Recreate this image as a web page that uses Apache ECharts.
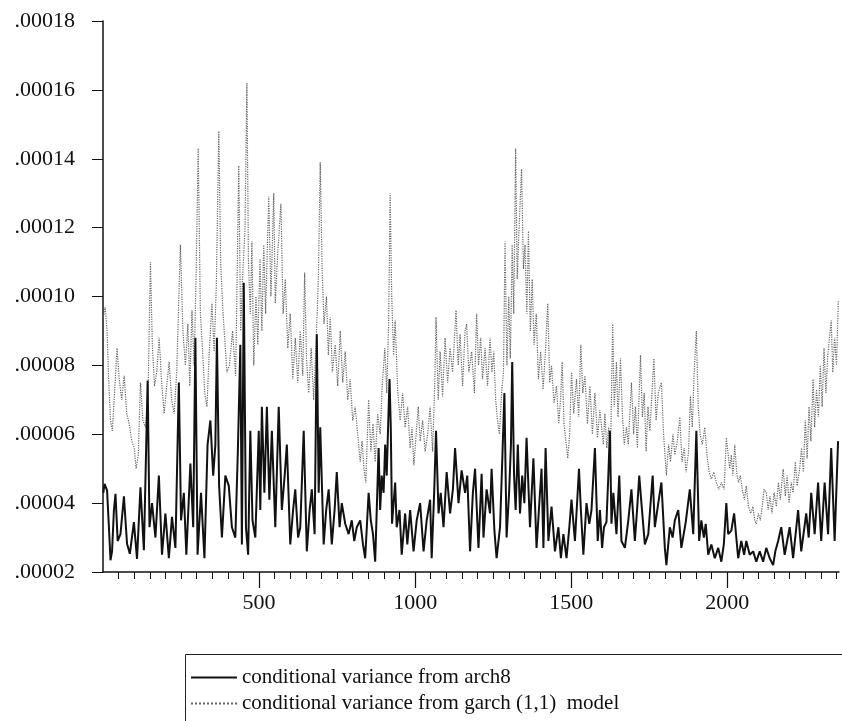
<!DOCTYPE html>
<html>
<head>
<meta charset="utf-8">
<script src="https://cdn.jsdelivr.net/npm/echarts@6/dist/echarts.min.js"></script>
<style>html,body{margin:0;padding:0;background:#fff;}#chart{width:842px;height:721px;}</style>
</head>
<body>
<div id="chart"></div>
<script>
// values in units of 1e-5 (axis labels show the true value, e.g. .00018)
const yTicks = [2, 4, 6, 8, 10, 12, 14, 16, 18];
const xLabels = [500, 1000, 1500, 2000];
const seriesNames = ['conditional variance from arch8', 'conditional variance from garch (1,1)  model'];

// [observation, conditional variance x 1e5]
const garchPoints = [
[1,9.4],[7,9.7],[13,9.0],[18,7.6],[24,6.4],[30,6.1],[37,7.2],[45,8.5],[52,7.6],[60,7.0],[68,7.7],[76,6.6],[84,6.3],[92,5.8],[100,5.6],[106,5.0],[113,5.4],[120,7.5],[128,6.4],[136,6.2],[144,7.0],[152,11.0],[158,8.6],[165,7.4],[172,7.8],[180,8.8],[188,7.5],[196,6.6],[204,7.4],[212,8.1],[220,7.0],[228,6.6],[236,7.8],[248,11.5],[256,9.0],[264,8.0],[272,9.2],[278,7.4],[285,9.6],[292,8.0],[298,10.5],[305,14.3],[312,9.5],[318,8.6],[326,7.2],[333,6.8],[340,8.3],[349,9.8],[356,8.4],[363,10.3],[371,14.8],[377,11.0],[384,9.6],[392,8.5],[397,7.8],
[405,8.0],[415,9.0],[425,7.7],[435,13.8],[441,9.0],[447,10.5],[455,12.0],[461,16.2],[466,11.0],[472,9.5],[477,11.6],[483,8.0],[490,10.0],[496,8.6],[503,11.1],[509,9.0],[515,11.5],[521,9.5],[531,12.9],[538,10.0],[547,13.0],[552,9.8],[560,11.3],[570,12.7],[577,9.5],[584,10.5],[592,8.5],[600,9.5],[608,7.6],[616,8.8],[624,7.5],[632,9.0],[640,7.7],[646,10.7],[652,8.2],[659,7.2],[667,8.5],[675,7.0],[684,9.0],[690,10.5],[696,13.9],[702,10.8],[708,9.2],[716,10.0],[722,8.3],[728,9.4],[735,7.8],[744,8.6],[752,7.4],[760,9.0],[768,7.5],[776,8.4],[784,7.0],[792,7.6],[800,6.4],[808,6.8],
[816,6.0],[824,5.2],[830,5.8],[836,5.0],[842,4.6],[851,7.0],[858,5.5],[865,6.3],[872,5.2],[880,6.6],[888,6.0],[895,7.5],[903,8.5],[909,7.2],[915,9.2],[920,13.0],[925,10.0],[931,8.3],[936,9.3],[944,7.3],[952,6.4],[960,7.2],[968,6.2],[976,6.8],[984,5.6],[990,6.2],[996,5.1],[1004,6.1],[1010,6.8],[1016,5.8],[1024,6.4],[1032,5.5],[1040,6.0],[1048,6.8],[1056,5.5],[1063,7.5],[1067,9.4],[1074,7.0],[1080,8.4],[1088,7.1],[1096,8.8],[1104,7.5],[1112,8.5],[1120,7.8],[1131,9.6],[1138,8.0],[1144,8.9],[1152,7.4],[1160,9.0],[1165,9.2],[1172,7.8],[1181,8.4],[1190,7.2],
[1197,9.5],[1203,8.0],[1210,8.8],[1216,7.6],[1224,8.5],[1232,7.4],[1240,8.8],[1246,7.8],[1252,8.4],[1258,7.0],[1264,6.4],[1270,6.0],[1277,7.2],[1283,7.8],[1288,11.6],[1294,8.0],[1300,10.0],[1305,8.2],[1311,11.5],[1316,9.5],[1322,14.3],[1327,10.5],[1333,12.0],[1341,13.7],[1347,10.8],[1352,11.5],[1358,9.5],[1363,11.9],[1369,9.0],[1375,10.5],[1381,8.6],[1388,9.5],[1395,7.6],[1402,8.4],[1410,7.3],[1418,8.5],[1425,9.8],[1431,7.5],[1437,8.0],[1445,6.9],[1453,7.4],[1460,6.3],[1466,7.0],[1471,8.1],[1477,6.3],[1483,5.8],[1489,5.3],[1495,6.0],[1501,7.8],[1508,6.6],[1517,7.6],[1524,6.5],[1531,8.6],[1537,7.2],[1544,7.7],[1552,6.3],[1560,7.4],[1568,6.0],[1576,7.2],[1584,5.9],[1592,6.7],[1603,5.7],
[1608,6.6],[1614,5.6],[1620,6.2],[1626,5.5],[1633,9.2],[1638,6.8],[1645,8.1],[1650,6.5],[1658,8.2],[1664,6.6],[1670,5.7],[1677,6.2],[1683,5.7],[1693,7.5],[1700,6.0],[1706,6.8],[1712,5.6],[1722,8.3],[1728,6.5],[1734,7.2],[1740,5.5],[1746,6.8],[1752,6.1],[1765,8.2],[1772,6.4],[1779,7.2],[1789,7.5],[1796,6.0],[1805,4.8],[1812,5.7],[1818,5.2],[1826,6.0],[1832,5.4],[1840,5.8],[1848,6.5],[1855,5.2],[1862,5.6],[1868,4.9],[1876,5.5],[1882,7.1],[1888,6.2],[1894,7.8],[1901,9.0],[1907,6.8],[1913,6.0],[1920,5.7],[1928,6.2],[1935,5.4],[1942,4.9],[1949,4.7],[1957,4.9],[1965,4.6],[1973,4.4],[1981,4.6],[1990,4.4],[1997,5.9],
[2003,5.9],[2008,5.0],[2013,5.4],[2018,4.8],[2024,5.7],[2030,4.9],[2036,4.6],[2042,4.8],[2048,4.4],[2055,4.1],[2061,4.5],[2068,3.9],[2075,3.7],[2082,3.9],[2088,3.5],[2093,3.4],[2100,3.7],[2106,3.5],[2112,3.9],[2118,4.4],[2125,4.3],[2131,3.8],[2137,4.2],[2143,3.7],[2150,4.3],[2157,3.9],[2164,4.6],[2170,4.1],[2179,5.0],[2186,4.2],[2192,4.8],[2198,4.0],[2205,4.6],[2211,4.3],[2218,5.2],[2224,4.5],[2232,5.0],[2238,5.6],[2244,4.9],[2250,6.4],[2256,5.3],[2262,6.8],[2268,5.8],[2275,7.6],[2280,6.2],[2286,7.3],[2292,6.5],[2298,8.0],[2304,6.8],[2310,8.5],[2316,7.2],[2322,8.3],[2333,9.3],[2338,7.8],[2344,8.8],[2350,8.0],[2356,9.9]
];

const archPoints = [
[1,4.3],[5,4.56],[13,4.37],[19,3.3],[24,2.34],[29,2.6],[35,3.8],[40,4.27],[47,2.9],[56,3.1],[67,4.2],[77,2.82],[86,2.53],[99,3.45],[109,2.38],[120,4.46],[131,2.63],[143,7.56],[149,3.3],[157,4.0],[168,3.0],[179,4.8],[189,2.5],[200,3.7],[211,2.4],[221,3.6],[232,2.7],[243,7.5],[250,3.5],[259,4.3],[267,2.5],[280,5.15],[289,3.3],[296,8.8],[303,2.5],[314,4.3],[325,2.4],[335,5.7],[344,6.4],[353,4.8],[360,5.7],[365,8.8],[372,4.5],[381,3.0],[392,4.8],
[403,4.5],[413,3.3],[424,3.0],[432,5.5],[440,8.6],[445,2.8],[451,10.4],[458,3.3],[465,2.5],[472,6.1],[479,3.5],[488,3.0],[499,6.1],[504,3.8],[509,6.8],[517,4.3],[525,6.8],[533,4.1],[541,6.1],[552,3.3],[563,6.8],[573,3.8],[582,4.8],[589,5.7],[600,2.8],[609,3.8],[616,4.4],[625,3.0],[632,3.3],[643,6.1],[653,2.6],[662,3.8],[669,4.4],[678,3.1],[685,8.9],[691,4.3],[696,6.2],[707,2.8],[715,3.8],[723,4.4],[733,2.8],[742,3.8],[749,4.9],[758,3.3],[765,4.0],[776,3.4],[787,3.1],[797,3.5],
[805,2.9],[813,3.3],[824,3.5],[833,2.8],[840,2.4],[851,4.3],[858,3.5],[865,3.1],[872,2.3],[883,5.6],[888,3.8],[893,4.8],[899,4.3],[904,5.7],[909,4.8],[914,6.4],[918,7.6],[922,6.2],[926,3.4],[936,4.6],[941,3.3],[950,3.8],[957,2.5],[968,3.7],[975,2.8],[984,3.8],[995,2.6],[1005,3.5],[1016,4.0],[1027,2.6],[1037,3.5],[1048,4.1],[1053,2.4],[1061,4.3],[1067,6.1],[1075,3.7],[1082,4.3],[1091,3.3],[1101,4.9],[1112,3.7],[1121,4.4],[1128,5.6],[1139,4.0],[1149,4.95],[1160,4.3],[1167,4.8],[1176,2.6],[1185,4.3],[1192,5.0],
[1203,2.7],[1213,4.85],[1219,3.0],[1229,4.4],[1240,3.7],[1245,5.0],[1254,3.2],[1261,2.4],[1272,3.3],[1279,5.2],[1286,7.2],[1293,3.0],[1301,4.3],[1307,5.7],[1311,8.1],[1317,4.8],[1322,3.8],[1329,5.7],[1336,3.7],[1343,4.8],[1350,4.0],[1357,5.9],[1368,3.3],[1379,5.3],[1389,2.7],[1400,4.3],[1405,5.0],[1411,2.7],[1418,5.6],[1427,2.9],[1437,3.9],[1448,2.6],[1459,3.3],[1467,2.4],[1475,3.1],[1485,2.4],[1494,3.3],[1501,4.1],[1512,2.9],[1525,5.0],[1531,3.8],[1539,2.5],[1549,4.0],[1558,3.4],[1565,3.8],[1576,5.6],[1585,2.9],[1592,3.8],[1599,2.7],
[1605,3.3],[1613,3.45],[1619,4.8],[1624,6.1],[1629,3.4],[1635,4.3],[1645,3.1],[1654,4.8],[1661,2.9],[1672,2.7],[1683,3.5],[1693,4.4],[1704,2.9],[1711,3.8],[1718,4.8],[1725,4.0],[1736,2.8],[1747,3.1],[1761,4.8],[1768,3.3],[1779,4.0],[1789,4.6],[1800,2.7],[1805,2.2],[1816,3.3],[1825,3.0],[1832,3.5],[1843,3.8],[1853,2.7],[1867,3.45],[1880,4.4],[1891,3.1],[1901,6.1],[1910,2.9],[1917,3.5],[1925,3.0],[1931,3.4],[1939,2.5],[1949,2.8],[1960,2.4],[1971,2.7],[1981,2.3],[1989,2.8],[1997,4.0],
[2003,3.1],[2013,3.2],[2022,3.7],[2035,2.4],[2045,2.9],[2054,2.5],[2061,2.9],[2072,2.5],[2083,2.6],[2093,2.3],[2104,2.6],[2115,2.3],[2125,2.7],[2136,2.4],[2147,2.2],[2154,2.6],[2163,2.9],[2173,3.3],[2184,2.5],[2200,3.3],[2211,2.4],[2227,3.8],[2237,2.6],[2253,3.7],[2261,3.0],[2269,4.3],[2280,3.1],[2291,4.6],[2301,2.9],[2312,4.6],[2323,3.1],[2333,5.6],[2344,2.9],[2355,5.8]
];

const xMax = 2358;
const minorTickValues = [];
for (let v = 50; v < xMax; v += 50) minorTickValues.push(v);

const serif = "'Liberation Serif', 'DejaVu Serif', serif";
const chart = echarts.init(document.getElementById('chart'), null, {renderer: 'canvas'});
chart.setOption({
  animation: false,
  backgroundColor: '#fff',
  grid: {left: 103, right: 3, top: 21, bottom: 149, containLabel: false},
  legend: {
    orient: 'vertical', left: 190, top: 667, itemGap: 5, padding: 0,
    itemWidth: 46, itemHeight: 14,
    itemStyle: {opacity: 0},
    textStyle: {fontFamily: serif, fontSize: 21, color: '#111', lineHeight: 21},
    data: seriesNames
  },
  graphic: [{
    type: 'rect', left: 183, top: 652, silent: true,
    shape: {width: 657, height: 90},
    style: {fill: 'none', stroke: '#222', lineWidth: 1}
  }],
  xAxis: [{
    type: 'value', min: 0, max: xMax, gridIndex: 0,
    axisLine: {show: true, lineStyle: {color: '#111', width: 1.5}},
    axisTick: {show: true, length: 7, customValues: minorTickValues, lineStyle: {color: '#111', width: 1}},
    axisLabel: {show: false},
    splitLine: {show: false}
  }, {
    type: 'value', min: 0, max: xMax, gridIndex: 0, position: 'bottom',
    axisLine: {show: false},
    axisTick: {show: true, length: 16, customValues: xLabels, lineStyle: {color: '#111', width: 1.2}},
    axisLabel: {show: true, customValues: xLabels, margin: 20, fontFamily: serif, fontSize: 22, color: '#111',
      formatter: v => String(v)},
    splitLine: {show: false}
  }],
  yAxis: {
    type: 'value', min: 2, max: 18, interval: 2,
    axisLine: {show: true, lineStyle: {color: '#111', width: 1.5}},
    axisTick: {show: true, length: 11, lineStyle: {color: '#111', width: 1}},
    axisLabel: {margin: 28, fontFamily: serif, fontSize: 22, color: '#111',
      formatter: v => (v / 1e5).toFixed(5).slice(1)},
    splitLine: {show: false}
  },
  series: [{
    name: seriesNames[0], type: 'line', xAxisIndex: 0, symbol: 'none',
    data: archPoints, z: 3,
    itemStyle: {color: '#111'},
    lineStyle: {color: '#111', width: 2}
  }, {
    name: seriesNames[1], type: 'line', xAxisIndex: 0, symbol: 'none',
    data: garchPoints, z: 2,
    itemStyle: {color: '#666'},
    lineStyle: {color: '#666', width: 1.2, type: 'dotted'}
  }]
});
</script>
</body>
</html>
